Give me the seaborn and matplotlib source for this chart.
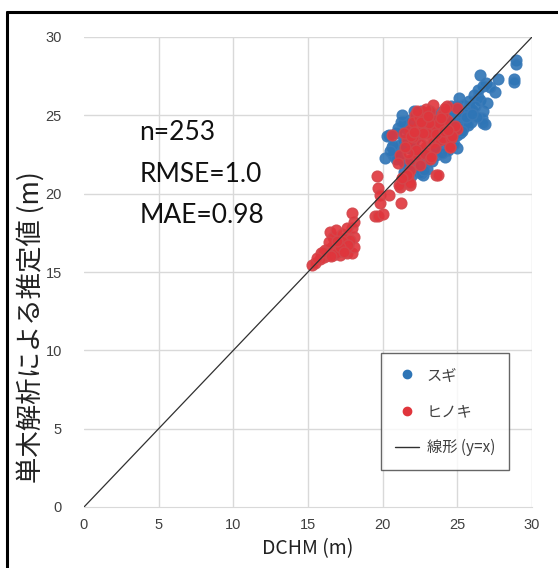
import matplotlib
matplotlib.use("Agg")
import matplotlib.pyplot as plt
import numpy as np
import pandas as pd
import seaborn as sns
from matplotlib.lines import Line2D

SUGI_COLOR = "#2e75b6"
SUGI_EDGE = "#3a7ab8"
HINOKI_COLOR = "#e0353c"
HINOKI_EDGE = "#d4464b"

# スギ (blue) — DCHM vs estimated height
sugi_x = [28.95, 28.9, 26.5, 27.7, 28.8, 28.8, 26.95, 26.75, 27.5, 26.1,
          26.4, 26.5, 25.1, 25.4, 25.75, 25.95, 26.75, 26.65, 26.85, 25.6,
          25.2, 24.85, 25.5, 25.3, 24.4, 24.85, 24.5, 24.95, 25.1, 25.9,
          26.75, 24.95, 24.2, 23.6, 24.0, 24.95, 24.5, 24.3, 23.85, 22.85,
          22.1, 21.4, 21.85, 20.15, 20.4, 20.6, 20.85, 21.4, 21.15, 21.4,
          22.05, 22.4, 22.6, 22.7, 21.4, 22.5, 21.85, 22.3, 23.6, 24.2,
          23.3, 22.6, 21.6, 20.9, 21.2, 22.0, 22.9, 23.2, 24.6, 25.4,
          23.5, 22.2, 21.7, 23.0, 25.8, 26.2, 25.0, 24.7, 23.9, 21.0,
          20.7, 21.5, 22.5, 23.7, 24.4, 25.2, 26.4, 27.2, 25.7, 26.3,
          27.0, 21.2, 20.3, 20.7, 24.0, 23.3, 22.0, 20.9, 25.6, 24.3,
          23.1, 21.9, 26.0, 24.8, 20.5, 22.8, 23.4, 21.3, 25.3, 24.6]
sugi_y = [28.55, 28.3, 27.6, 27.35, 27.35, 27.1, 27.05, 26.85, 26.5, 26.3,
          26.2, 25.95, 26.1, 25.65, 25.55, 25.35, 25.25, 24.8, 24.45, 24.7,
          25.0, 25.35, 25.1, 24.6, 25.25, 24.8, 24.45, 24.4, 25.2, 24.6,
          24.5, 22.9, 22.35, 22.45, 23.1, 23.75, 23.6, 24.15, 24.7, 24.9,
          25.25, 24.6, 24.7, 22.25, 23.75, 23.0, 22.8, 23.4, 22.35, 22.05,
          21.7, 21.85, 21.3, 21.2, 21.4, 21.3, 22.9, 22.8, 22.8, 23.4,
          25.0, 25.3, 24.1, 23.9, 23.2, 22.2, 22.0, 22.6, 24.9, 24.2,
          23.9, 23.6, 21.9, 21.6, 25.9, 25.6, 25.6, 24.1, 25.2, 24.2,
          22.5, 23.1, 22.4, 23.3, 22.8, 23.9, 26.6, 26.8, 24.4, 24.9,
          25.8, 24.6, 23.7, 23.1, 22.6, 22.1, 23.3, 22.2, 24.9, 23.9,
          24.5, 21.1, 25.1, 23.2, 22.7, 21.5, 24.3, 25.0, 24.0, 25.6]

# ヒノキ (red)
hinoki_x = [15.25, 15.45, 15.9, 16.15, 16.25, 16.5, 16.7, 16.9, 16.6, 16.8,
            17.05, 17.15, 17.35, 17.5, 17.25, 17.6, 17.95, 18.05, 18.05, 17.95,
            18.05, 17.95, 17.8, 16.35, 16.05, 15.8, 16.7, 16.9, 17.25, 17.7,
            17.15, 17.6, 16.4, 16.0, 17.4, 16.55, 15.6, 16.95,
            19.5, 19.6, 19.7, 19.85, 19.85, 20.45, 19.7, 20.05, 21.2, 21.15,
            21.3, 21.7, 21.85, 23.6, 21.1, 21.6, 21.85,
            23.4, 24.95, 22.15, 22.7, 22.5, 23.0, 23.5, 24.0, 22.8, 23.3,
            23.6, 24.2, 21.85, 22.3, 22.9, 23.3, 21.6, 21.95, 22.9, 23.4,
            23.85, 24.5, 24.95, 20.6, 21.15, 21.05, 21.85, 22.3, 22.85, 23.2,
            21.85, 22.5, 21.6, 21.3, 23.7, 24.05, 24.6, 24.5, 24.3, 24.05,
            24.85, 24.65, 22.6, 23.0, 22.4, 23.8, 24.3, 22.0, 23.2, 21.4,
            22.2, 22.7, 23.6, 24.1, 22.45, 23.1, 22.05, 23.9, 21.7, 22.9,
            23.5, 24.4, 22.3, 21.9, 23.25, 22.6, 24.2, 22.1, 23.05, 21.5]
hinoki_y = [15.45, 15.55, 16.2, 16.4, 16.1, 17.55, 17.25, 17.7, 16.6, 16.85,
            16.4, 16.1, 16.6, 17.15, 17.45, 16.2, 16.2, 16.6, 17.25, 17.8,
            18.2, 18.75, 17.05, 16.4, 15.95, 15.85, 16.1, 16.2, 16.95, 16.7,
            16.6, 17.8, 16.9, 16.3, 16.3, 16.05, 15.9, 17.0,
            18.6, 21.1, 20.35, 19.9, 19.4, 19.9, 18.55, 18.7, 19.4, 20.45,
            20.95, 21.2, 20.55, 21.2, 20.55, 21.2, 20.65,
            25.65, 25.5, 25.0, 25.2, 24.7, 24.8, 24.7, 25.1, 24.3, 24.2,
            24.05, 24.3, 24.05, 23.75, 23.6, 23.75, 23.4, 23.1, 22.95, 23.3,
            23.4, 23.0, 24.15, 23.75, 22.45, 21.95, 22.15, 22.45, 22.55, 22.2,
            21.5, 21.85, 21.2, 21.0, 21.2, 23.55, 23.55, 22.95, 24.7, 25.1,
            24.3, 23.65, 23.2, 23.9, 24.3, 24.5, 25.6, 24.6, 25.3, 23.9,
            22.8, 23.9, 23.8, 24.0, 24.9, 24.5, 23.6, 24.85, 22.6, 25.4,
            22.9, 24.05, 25.3, 23.7, 22.35, 24.55, 25.45, 23.95, 24.95, 22.95]

AX_MAX = 30
TICKS = [0, 5, 10, 15, 20, 25, 30]

sugi = pd.DataFrame({"DCHM": sugi_x, "est": sugi_y})
hinoki = pd.DataFrame({"DCHM": hinoki_x, "est": hinoki_y})

sns.set_style("white")
plt.rcParams["font.family"] = ["Noto Sans CJK JP", "DejaVu Sans"]

fig = plt.figure(figsize=(5.58, 5.68), dpi=100)
ax = fig.add_axes([84 / 558, 61 / 568, 448 / 558, 470 / 568])

# light grid
for t in TICKS[1:]:
    ax.axvline(t, color="#d9d9d9", linewidth=1.0, zorder=0)
    ax.axhline(t, color="#d9d9d9", linewidth=1.0, zorder=0)

sns.scatterplot(data=sugi, x="DCHM", y="est", color=SUGI_COLOR,
                edgecolor=SUGI_EDGE, s=60, alpha=0.9, linewidth=1.0,
                ax=ax, zorder=3)
sns.scatterplot(data=hinoki, x="DCHM", y="est", color=HINOKI_COLOR,
                edgecolor=HINOKI_EDGE, s=60, alpha=0.9, linewidth=1.0,
                ax=ax, zorder=3)

ax.plot([0, AX_MAX], [0, AX_MAX], color="#303030", linewidth=0.9, zorder=4)

ax.set_xlim(0, AX_MAX)
ax.set_ylim(0, AX_MAX)
ax.set_xticks(TICKS)
ax.set_yticks(TICKS)
for side in ["top", "right", "left"]:
    ax.spines[side].set_visible(False)
ax.spines["bottom"].set_color("#d9d9d9")
ax.tick_params(axis="both", length=0, labelsize=10.5, colors="#404040")
ax.tick_params(axis="y", pad=16)
ax.tick_params(axis="x", pad=8)
for lab in ax.get_xticklabels() + ax.get_yticklabels():
    lab.set_fontfamily(["Liberation Sans", "DejaVu Sans"])

ax.set_xlabel("DCHM (m)", fontsize=14, color="#222222", labelpad=4)
ax.set_ylabel("単木解析による推定値 (m)", fontsize=19, color="#222222")
ax.yaxis.set_label_coords(-0.088, 0.383)

txt_kw = dict(transform=ax.transData, fontsize=19, color="#111111",
              family=["Lato", "DejaVu Sans"], va="center", ha="left")
ax.text(3.7, 23.9, "n=253", **txt_kw)
ax.text(3.7, 21.2, "RMSE=1.0", **txt_kw)
ax.text(3.7, 18.6, "MAE=0.98", **txt_kw)

handles = [
    Line2D([], [], marker="o", linestyle="", color=SUGI_COLOR, markersize=6),
    Line2D([], [], marker="o", linestyle="", color=HINOKI_COLOR, markersize=6),
    Line2D([], [], color="#303030", linewidth=1.0),
]
leg = ax.legend(
    handles, ["スギ", "ヒノキ", "線形 (y=x)"],
    loc="upper left", bbox_to_anchor=((381 - 84) / 448, (507 - 353) / 470),
    frameon=True, fancybox=False, fontsize=11, labelspacing=1.25,
    handlelength=1.6, handletextpad=0.5, borderpad=0.9, borderaxespad=0,
)
leg.get_frame().set_edgecolor("#404040")
leg.get_frame().set_linewidth(1.0)
for t in leg.get_texts():
    t.set_color("#404040")

# outer frame of the figure (cut at right/bottom in the original)
fig.add_artist(Line2D([7 / 558, 7 / 558], [0, 1 - 12 / 568],
                      transform=fig.transFigure, color="black", linewidth=2.2))
fig.add_artist(Line2D([7 / 558, 1], [1 - 12 / 568, 1 - 12 / 568],
                      transform=fig.transFigure, color="black", linewidth=2.2))

fig.savefig("out.png", dpi=100, facecolor="white")
